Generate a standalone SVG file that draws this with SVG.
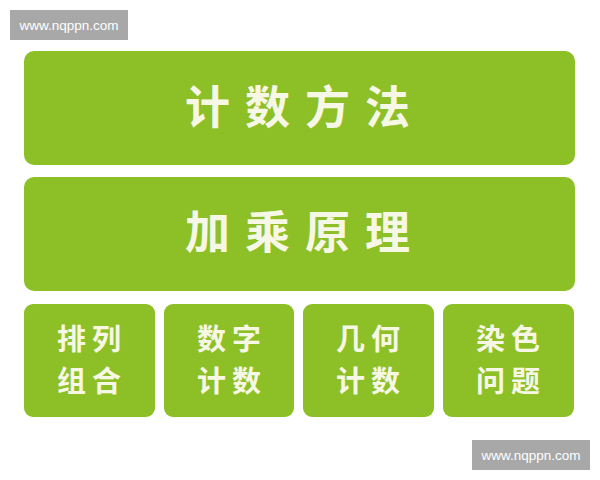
<svg xmlns="http://www.w3.org/2000/svg" width="600" height="480" viewBox="0 0 600 480">
<style>
.box{fill:#8dc027;}
.wm{fill:#a8a8a8;}
.wmt{fill:#ffffff;font-family:"Liberation Sans",Arial,sans-serif;font-size:13.5px;text-anchor:middle;}
.big{fill:#f7f7e6;font-family:"Noto Sans CJK SC",sans-serif;font-weight:700;font-size:45px;text-anchor:middle;letter-spacing:15px;}
.small{fill:#f7f7e6;font-family:"Noto Sans CJK SC",sans-serif;font-weight:700;font-size:29px;text-anchor:middle;letter-spacing:6px;}
</style>
<rect width="600" height="480" fill="#ffffff"/>
<g id="watermark-top">
<rect class="wm" x="10" y="10" width="118" height="30"/>
<text class="wmt" x="69" y="29.5">www.nqppn.com</text>
</g>
<g id="node-method">
<rect class="box" x="24" y="51" width="551" height="114" rx="10"/>
<text class="big" x="305" y="124">计数方法</text>
</g>
<g id="node-principle">
<rect class="box" x="24" y="177" width="551" height="114" rx="10"/>
<text class="big" x="305" y="249">加乘原理</text>
</g>
<g id="node-perm">
<rect class="box" x="24" y="304" width="131" height="113" rx="9"/>
<text class="small" x="92" y="350">排列</text>
<text class="small" x="92" y="392">组合</text>
</g>
<g id="node-digit">
<rect class="box" x="164" y="304" width="130" height="113" rx="9"/>
<text class="small" x="232" y="350">数字</text>
<text class="small" x="232" y="392">计数</text>
</g>
<g id="node-geom">
<rect class="box" x="303" y="304" width="131" height="113" rx="9"/>
<text class="small" x="371" y="350">几何</text>
<text class="small" x="371" y="392">计数</text>
</g>
<g id="node-color">
<rect class="box" x="443" y="304" width="131" height="113" rx="9"/>
<text class="small" x="511" y="350">染色</text>
<text class="small" x="511" y="392">问题</text>
</g>
<g id="connectors"></g>
<g id="watermark-bottom">
<rect class="wm" x="472" y="440" width="118" height="30"/>
<text class="wmt" x="531" y="459.5">www.nqppn.com</text>
</g>
</svg>
